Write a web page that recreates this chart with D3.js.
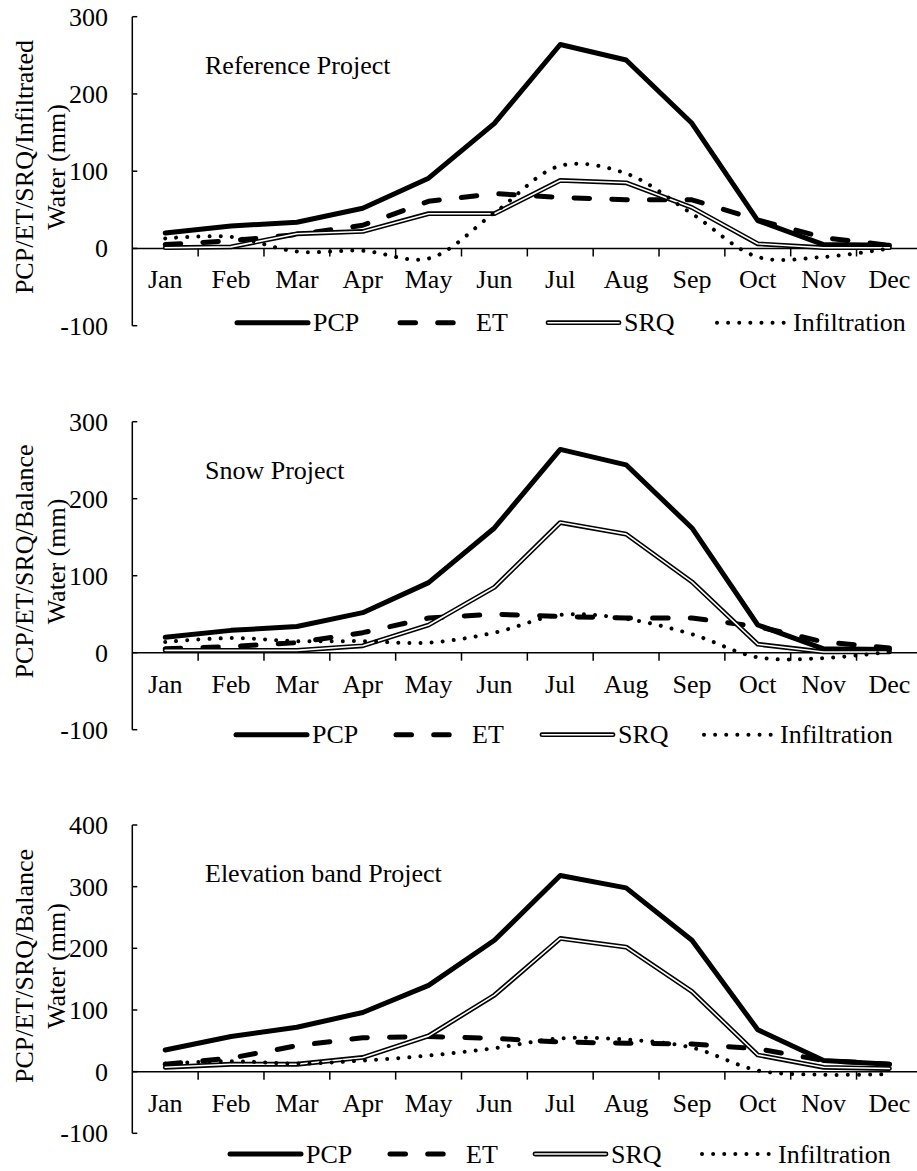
<!DOCTYPE html>
<html>
<head>
<meta charset="utf-8">
<script src="https://cdn.jsdelivr.net/npm/d3@7"></script>
<style>
  html, body { margin: 0; padding: 0; background: #fff; }
  svg { display: block; }
  text { font-family: "Liberation Serif", "Times New Roman", serif; font-size: 26px; fill: #000; }
</style>
</head>
<body>
<svg id="chart" width="917" height="1171"></svg>
<script>
// Months on the category axis
const months = ["Jan","Feb","Mar","Apr","May","Jun","Jul","Aug","Sep","Oct","Nov","Dec"];

// Series names, in legend / drawing order
const seriesNames = ["PCP", "ET", "SRQ", "Infiltration"];

// Y-axis tick labels
const yTicks300 = [-100, 0, 100, 200, 300];
const yTicks400 = [-100, 0, 100, 200, 300, 400];

// Reference Project (mm)
const refPCP = [20, 29, 34, 52, 91, 162, 264, 244, 162, 36, 5, 4];
const refET  = [5, 10, 18, 30, 61, 71, 66, 63, 63, 37, 14, 4];
const refSRQ = [1, 2, 19, 22, 45, 45, 88, 85, 53, 6, 1, 1];
const refInf = [13, 15, -4, -3, -13, 46, 107, 97, 45, -11, -11, 0];

// Snow Project (mm)
const snowPCP = [20, 29, 34, 52, 91, 162, 264, 244, 162, 36, 5, 4];
const snowET  = [5, 8, 13, 26, 45, 50, 47, 45, 45, 34, 14, 6];
const snowSRQ = [3, 3, 3, 9, 36, 85, 169, 154, 92, 11, 1, 1];
const snowInf = [14, 19, 15, 15, 13, 26, 49, 44, 24, -6, -7, 1];

// Elevation band Project (mm)
const elevPCP = [35, 57, 72, 96, 140, 213, 318, 298, 213, 68, 18, 12];
const elevET  = [12, 22, 42, 55, 57, 54, 48, 46, 45, 37, 18, 12];
const elevSRQ = [7, 12, 12, 23, 58, 124, 216, 202, 130, 27, 7, 5];
const elevInf = [13, 17, 13, 18, 26, 38, 54, 52, 39, 2, -5, -4];

// Panel layout
const panels = [
  { title: "Reference Project", yTitle: ["PCP/ET/SRQ/Infiltrated", "Water (mm)"],
    ticks: yTicks300, top: 16.7, bottom: 325.7, titleMid: 167,
    legendY: 322.7, legendX: [237, 400, 548, 717],
    series: [refPCP, refET, refSRQ, refInf] },
  { title: "Snow Project", yTitle: ["PCP/ET/SRQ/Balance", "Water (mm)"],
    ticks: yTicks300, top: 421.7, bottom: 729.7, titleMid: 561.5,
    legendY: 734.7, legendX: [236, 396, 542, 704],
    series: [snowPCP, snowET, snowSRQ, snowInf] },
  { title: "Elevation band Project", yTitle: ["PCP/ET/SRQ/Balance", "Water (mm)"],
    ticks: yTicks400, top: 825, bottom: 1133.3, titleMid: 966,
    legendY: 1154, legendX: [230, 390, 535, 702],
    series: [elevPCP, elevET, elevSRQ, elevInf] }
];

const axisX = 132.3;
const bandW = 65.84;

const svg = d3.select("#chart");
svg.append("rect").attr("width", 917).attr("height", 1171).attr("fill", "#fff");

const x = d3.scaleBand().domain(months).range([axisX, axisX + bandW * months.length]).padding(0);
const cx = m => x(m) + x.bandwidth() / 2;

// Stroke styles per series; SRQ is a hollow double line (black under white)
function drawSeries(g, idx, pathD) {
  if (idx === 0) {
    g.append("path").attr("d", pathD).attr("fill", "none").attr("stroke", "#000")
      .attr("stroke-width", 5).attr("stroke-linejoin", "round").attr("stroke-linecap", "round");
  } else if (idx === 1) {
    g.append("path").attr("d", pathD).attr("fill", "none").attr("stroke", "#000")
      .attr("stroke-width", 5).attr("stroke-linecap", "round").attr("stroke-linejoin", "round")
      .attr("stroke-dasharray", "15.5,22.2");
  } else if (idx === 2) {
    g.append("path").attr("d", pathD).attr("fill", "none").attr("stroke", "#000")
      .attr("stroke-width", 4.8).attr("stroke-linejoin", "round").attr("stroke-linecap", "round");
    g.append("path").attr("d", pathD).attr("fill", "none").attr("stroke", "#fff")
      .attr("stroke-width", 1.6).attr("stroke-linejoin", "round").attr("stroke-linecap", "round");
  } else {
    g.append("path").attr("d", pathD).attr("fill", "none").attr("stroke", "#000")
      .attr("stroke-width", 4).attr("stroke-linecap", "round")
      .attr("stroke-dasharray", "0.01,11.1");
  }
}

panels.forEach(p => {
  const g = svg.append("g");
  const lo = d3.min(p.ticks), hi = d3.max(p.ticks);
  const y = d3.scaleLinear().domain([lo, hi]).range([p.bottom, p.top]);
  const y0 = y(0);

  // Y axis: vertical line with inward ticks
  g.append("line").attr("x1", axisX).attr("x2", axisX).attr("y1", y(hi)).attr("y2", y(lo))
    .attr("stroke", "#000").attr("stroke-width", 1.5);
  g.selectAll(".yt").data(p.ticks).enter().append("line")
    .attr("x1", axisX).attr("x2", axisX + 5).attr("y1", d => y(d)).attr("y2", d => y(d))
    .attr("stroke", "#000").attr("stroke-width", 1.5);
  g.selectAll(".yl").data(p.ticks).enter().append("text")
    .attr("x", 108).attr("y", d => y(d) + 9).attr("text-anchor", "end").text(d => d);

  // X axis along zero with downward ticks at category boundaries
  g.append("line").attr("x1", axisX).attr("x2", x.range()[1]).attr("y1", y0).attr("y2", y0)
    .attr("stroke", "#000").attr("stroke-width", 1.5);
  g.selectAll(".xt").data(months.slice(1)).enter().append("line")
    .attr("x1", d => x(d)).attr("x2", d => x(d)).attr("y1", y0).attr("y2", y0 + 8)
    .attr("stroke", "#000").attr("stroke-width", 1.5);
  g.selectAll(".xl").data(months).enter().append("text")
    .attr("x", d => cx(d)).attr("y", y0 + 40).attr("text-anchor", "middle").text(d => d);

  // Y-axis title, two rotated lines
  p.yTitle.forEach((t, i) => {
    const bx = i === 0 ? 33 : 65;
    g.append("text").attr("transform", `translate(${bx},${p.titleMid}) rotate(-90)`)
      .attr("text-anchor", "middle").text(t);
  });

  // Panel title
  g.append("text").attr("x", 205).attr("y", p.top + 57).text(p.title);

  // Series lines
  const straight = d3.line().x((d, i) => cx(months[i])).y(d => y(d));
  const smooth = d3.line().x((d, i) => cx(months[i])).y(d => y(d)).curve(d3.curveCatmullRom.alpha(0.5));
  p.series.forEach((vals, idx) => {
    drawSeries(g, idx, (idx === 3 ? smooth : straight)(vals));
  });

  // Legend
  seriesNames.forEach((name, idx) => {
    const lx = p.legendX[idx];
    const sample = `M${lx},${p.legendY}L${lx + 71},${p.legendY}`;
    drawSeries(g, idx, sample);
    g.append("text").attr("x", lx + 76).attr("y", p.legendY + 8.5).text(name);
  });
});
</script>
</body>
</html>
